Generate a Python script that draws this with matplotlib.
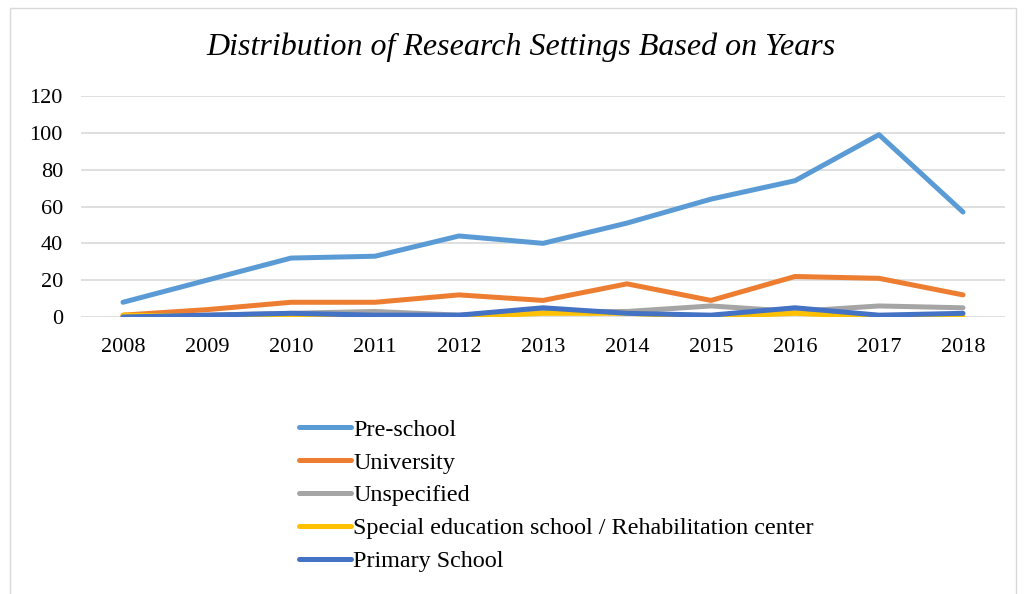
import matplotlib.pyplot as plt
import numpy as np
from matplotlib.patches import Rectangle

years = ["2008", "2009", "2010", "2011", "2012", "2013", "2014", "2015", "2016", "2017", "2018"]
preschool = [8, 20, 32, 33, 44, 40, 51, 64, 74, 99, 57]
university = [1, 4, 8, 8, 12, 9, 18, 9, 22, 21, 12]
unspecified = [0, 1, 2, 3, 1, 3, 3, 6, 3, 6, 5]
special = [1, 0.5, 0.5, 0, 0, 2, 2, 0, 2, 0, 0]
primary = [0, 1, 2, 1, 1, 5, 2, 1, 5, 1, 2]

series = [
    ("Pre-school", preschool, "#5B9BD5"),
    ("University", university, "#ED7D31"),
    ("Unspecified", unspecified, "#A5A5A5"),
    ("Special education school / Rehabilitation center", special, "#FFC000"),
    ("Primary School", primary, "#4472C4"),
]

plt.rcParams["font.family"] = ["Liberation Serif", "DejaVu Serif"]

fig = plt.figure(figsize=(10.24, 5.94), dpi=100)
ax = fig.add_axes([81 / 1024, 1 - 317 / 594, (1005 - 81) / 1024, (317 - 96) / 594])

x = np.arange(len(years))
for name, vals, col in series:
    ax.plot(x, vals, color=col, lw=3.6, label=name, solid_capstyle="round", zorder=3)

ax.set_xlim(-0.5, len(years) - 0.5)
ax.set_ylim(0, 120)
ax.set_yticks(np.arange(0, 121, 20))
ax.set_xticks(x)
ax.set_xticklabels(years)
ax.tick_params(length=0, labelsize=16, colors="#000000")
ax.tick_params(axis="x", pad=15)
ax.tick_params(axis="y", pad=13)
ax.grid(axis="y", color="#D9D9D9", lw=1.2, zorder=0)
for s in ax.spines.values():
    s.set_visible(False)

fig.text(521 / 1024, 1 - 47 / 594, "Distribution of Research Settings Based on Years",
         ha="center", va="center", fontsize=23, style="italic")

fig.legend(loc="upper left", bbox_to_anchor=(299 / 1024, 1 - 419 / 594), frameon=False,
           fontsize=17.4, handlelength=2.15, handletextpad=0.1, labelspacing=0.45,
           borderpad=0, borderaxespad=0)

fig.patches.append(Rectangle((10 / 1024, -0.01), 1006 / 1024, 1 - 8 / 594 + 0.01,
                             transform=fig.transFigure, fill=False, ec="#D9D9D9", lw=1))

fig.savefig("out.png", dpi=100)
